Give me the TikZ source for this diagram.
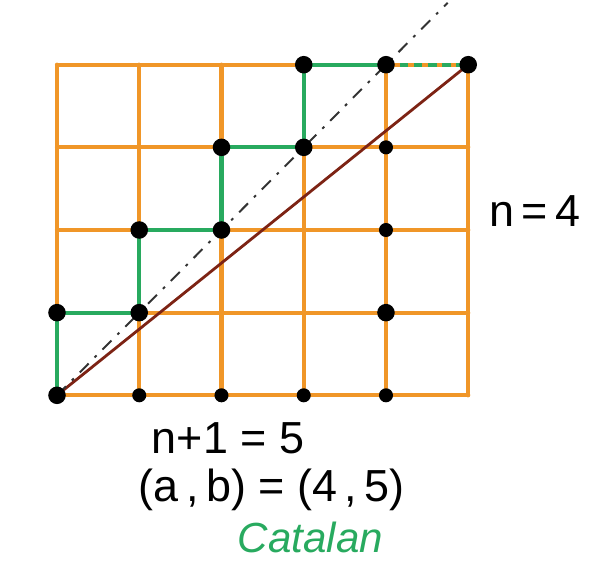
\documentclass[tikz,border=0pt]{standalone}
\usepackage{fontspec}
\setmainfont{Liberation Sans}
\usetikzlibrary{positioning}
\definecolor{gridorange}{RGB}{240,150,40}
\definecolor{pathgreen}{RGB}{40,170,95}
\definecolor{diagbrown}{RGB}{125,35,20}

\begin{document}
\begin{tikzpicture}[x=2.06cm,y=2.07cm,
		gridline/.style={gridorange,line width=3pt,line cap=round},
		pathline/.style={pathgreen,line width=3pt,line cap=round},
		bigdot/.style={circle,fill=black,inner sep=0pt,minimum size=12.5pt},
		smalldot/.style={circle,fill=black,inner sep=0pt,minimum size=10pt},
		hand/.style={font=\fontsize{32}{36}\selectfont}]
	\useasboundingbox (-0.693,-2.012) rectangle (6.663,4.783);
	\foreach \i in {0,...,5}
		\foreach \j in {0,...,4}
			\coordinate (g\i\j) at (\i,\j);
	\coordinate (dtop) at (4.75,4.75);
	% orange grid
	\foreach \j in {0,...,4}
		\draw[gridline] (g0\j) -- (g5\j);
	\foreach \i in {0,...,5}
		\draw[gridline] (g\i0) -- (g\i4);
	% lattice path
	\draw[pathline] (g00) -- (g01) -- (g11) -- (g12) -- (g22) -- (g23)
		-- (g33) -- (g34) -- (g44);
	\draw[pathline,line cap=butt,dash pattern=on 6pt off 4pt] (g44) -- (g54);
	% diagonals
	\draw[diagbrown,line width=2pt] (g00) -- (g54);
	\draw[black!80,line width=1.4pt,dash pattern=on 9pt off 6pt on 2pt off 6pt] (g00) -- (dtop);
	% points
	\foreach \p in {00,01,11,12,22,23,33,34,44,54,41}
		\node[bigdot] (d\p) at (g\p) {};
	\foreach \p in {10,20,30,40,42,43}
		\node[smalldot] (d\p) at (g\p) {};
	% labels
	\node[hand] (nlab) at (5.81,2.23) {n\,=\,4};
	\node[hand] (nplus) at (2.08,-0.52) {n+1 = 5};
	\node[hand] (ab) at (2.61,-1.14) {(a\,,\,b) = (4\,,\,5)};
	\node[hand,pathgreen,font=\fontsize{30}{34}\selectfont\itshape] (cat) at (3.08,-1.72) {Catalan};
\end{tikzpicture}
\end{document}
